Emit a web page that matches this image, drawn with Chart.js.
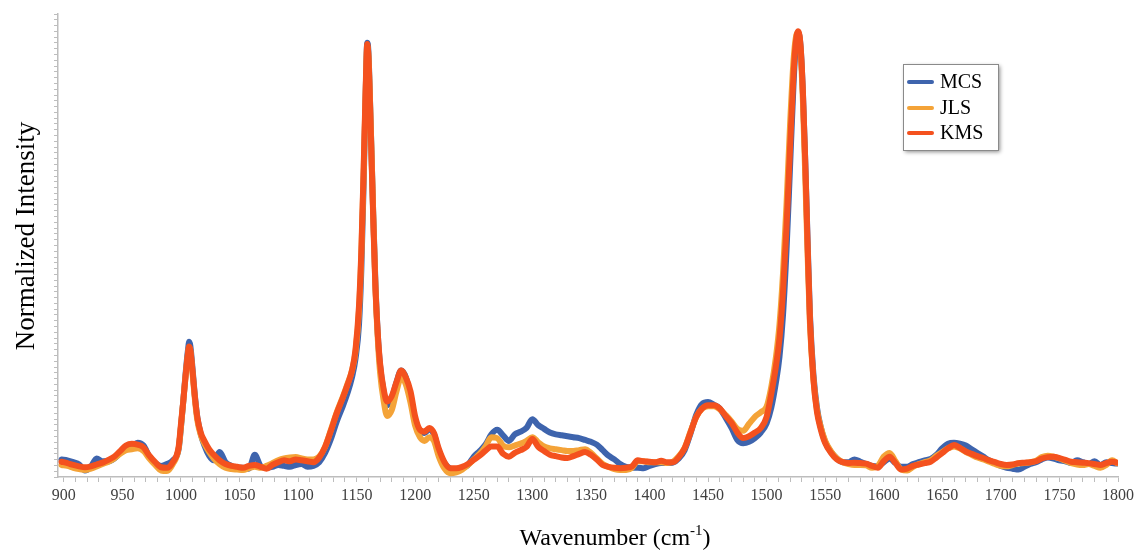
<!DOCTYPE html>
<html>
<head>
<meta charset="utf-8">
<script src="https://cdn.jsdelivr.net/npm/chart.js@4.4.1/dist/chart.umd.min.js"></script>
<style>
  html, body { margin: 0; padding: 0; background: #fff; }
  #wrap { width: 1139px; height: 550px; position: relative; }
</style>
</head>
<body>
<div id="wrap"><canvas id="grafico"></canvas></div>
<script>
// Raman spectra, values (arbitrary units, 0..100)
const wavenumbers = [
  898, 903, 908, 913, 918, 923, 928, 933, 938, 943,
  948, 953, 958, 963, 968, 973, 978, 983, 988, 993,
  998, 1000, 1002, 1004, 1006, 1007, 1008, 1010, 1012, 1014,
  1017, 1020, 1024, 1028, 1033, 1038, 1043, 1048, 1053, 1058,
  1063, 1068, 1073, 1078, 1083, 1088, 1093, 1098, 1103, 1108,
  1113, 1118, 1123, 1128, 1133, 1138, 1142, 1146, 1149, 1152,
  1154, 1156, 1158, 1159, 1160, 1162, 1164, 1166, 1168, 1170,
  1173, 1176, 1180, 1184, 1188, 1192, 1196, 1200, 1204, 1208,
  1212, 1216, 1220, 1225, 1230, 1235, 1240, 1245, 1250, 1255,
  1260, 1265, 1270, 1275, 1280, 1285, 1290, 1295, 1300, 1305,
  1310, 1315, 1320, 1325, 1330, 1335, 1340, 1345, 1350, 1355,
  1360, 1365, 1370, 1375, 1380, 1385, 1390, 1395, 1400, 1405,
  1410, 1415, 1420, 1425, 1430, 1435, 1440, 1445, 1450, 1455,
  1460, 1465, 1470, 1475, 1480, 1485, 1490, 1495, 1500, 1504,
  1508, 1511, 1514, 1517, 1520, 1523, 1525, 1527, 1529, 1531,
  1533, 1535, 1537, 1540, 1543, 1546, 1550, 1555, 1560, 1565,
  1570, 1575, 1580, 1585, 1590, 1595, 1600, 1605, 1610, 1615,
  1620, 1625, 1630, 1635, 1640, 1645, 1650, 1655, 1660, 1665,
  1670, 1675, 1680, 1685, 1690, 1695, 1700, 1705, 1710, 1715,
  1720, 1725, 1730, 1735, 1740, 1745, 1750, 1755, 1760, 1765,
  1770, 1775, 1780, 1785, 1790, 1795, 1799
];

const mcs = [
  3.8, 3.6, 3.2, 2.7, 1.4, 2.2, 4.0, 3.4, 3.4, 4.0,
  5.2, 6.2, 6.6, 7.4, 6.8, 4.4, 3.0, 2.4, 2.8, 3.6,
  6.0, 10.8, 16.5, 22.5, 27.5, 29.2, 28.3, 23, 17.2, 12.8,
  9.2, 6.8, 4.6, 3.6, 5.4, 3.2, 2.4, 2.0, 2.0, 1.8,
  4.8, 2.4, 2.0, 2.2, 2.6, 2.4, 2.2, 2.6, 2.8, 2.2,
  2.4, 3.2, 5.2, 8.2, 12, 15.2, 18, 21.5, 25.5, 33,
  45, 64, 86, 93.8, 92, 76, 58, 42, 31, 24,
  18.5, 15.5, 17, 20.5, 23, 21.5, 17.5, 12.2, 10, 9.5,
  10.3, 9.2, 5.8, 3.0, 1.8, 1.6, 2.0, 2.6, 4.4, 5.6,
  7.0, 9.2, 10.2, 9.0, 7.8, 9.2, 9.8, 10.6, 12.5, 11.2,
  10.4, 9.6, 9.2, 9.0, 8.8, 8.6, 8.4, 8.0, 7.6, 7.0,
  5.8, 4.6, 3.8, 2.8, 2.2, 2.0, 2.0, 1.9, 2.4, 2.8,
  3.0, 3.0, 3.1, 4.0, 5.8, 9.4, 13.5, 15.8, 16.2, 15.6,
  14.8, 12.8, 10.6, 8.0, 7.3, 7.6, 8.4, 9.6, 11.6, 15,
  20.5, 26, 35, 49, 67, 85, 93.5, 96, 93, 83,
  68, 51, 35, 22, 15, 11, 7.6, 5.4, 4.0, 3.2,
  3.2, 3.8, 3.3, 2.8, 2.4, 2.3, 3.2, 4.0, 3.0, 2.2,
  2.2, 2.8, 3.2, 3.6, 3.9, 4.8, 6.2, 7.2, 7.4, 7.2,
  6.8, 6.0, 5.2, 4.4, 3.6, 3.0, 2.4, 2.0, 1.8, 1.6,
  2.2, 2.8, 3.2, 3.8, 4.2, 4.0, 3.6, 3.4, 3.0, 3.6,
  3.2, 2.8, 3.4, 2.6, 3.2, 3.0, 2.9
];

const jls = [
  2.6, 2.4, 2.0, 1.7, 1.5, 1.8, 2.3, 2.8, 3.3, 4.0,
  5.0, 5.8, 6.0, 6.2, 5.6, 4.0, 2.6, 1.4, 1.3, 2.8,
  6.2, 11, 16.5, 22, 26.5, 28, 27.2, 22, 16.5, 12.2,
  9.0, 7.2, 5.4, 4.0, 2.8, 2.0, 1.7, 1.6, 1.5, 1.9,
  2.2, 2.0, 2.4, 3.0, 3.6, 4.0, 4.2, 4.3, 4.0, 3.8,
  3.8, 4.4, 6.5, 10.2, 14, 17.2, 20, 23, 27, 36,
  48, 66, 86, 93, 91, 76, 58, 41, 30, 22.5,
  16.5, 13.2, 14.5, 18.5, 21.5, 20, 16, 11, 8.6, 7.8,
  8.6, 7.8, 4.5, 1.8, 0.8, 1.0, 1.6, 2.6, 3.8, 5.0,
  6.6, 8.6, 8.4, 6.8, 6.4, 6.8, 7.2, 7.8, 8.6, 7.5,
  6.6, 6.2, 6.0, 5.8, 5.6, 5.6, 5.8, 6.0, 5.2, 4.0,
  2.8, 2.2, 1.7, 1.5, 1.5, 2.0, 3.4, 3.4, 3.2, 3.2,
  3.2, 3.0, 3.3, 4.5, 6.3, 9.8, 13, 14.8, 15.3, 15.3,
  14.6, 13.4, 12.0, 10.4, 10.0, 11.5, 13, 14, 15.2, 19.5,
  26, 33, 44, 59, 76, 90, 95, 96, 92, 81,
  65, 48, 33, 21, 14.5, 11, 7.8, 5.5, 4, 3.2,
  2.8, 2.6, 2.6, 2.5, 2.0, 2.4, 4.4, 5.2, 3.4, 1.6,
  1.4, 2.2, 2.8, 3.2, 3.6, 4.6, 5.4, 6.2, 6.6, 6.2,
  5.4, 4.8, 4.2, 3.8, 3.3, 2.8, 2.4, 2.3, 2.6, 2.9,
  3.0, 3.2, 3.5, 4.3, 4.6, 4.4, 4.0, 3.5, 3.0, 2.7,
  2.6, 2.8, 2.4, 2.0, 2.6, 3.6, 3.0
];

const kms = [
  3.3, 3.0, 2.6, 2.3, 2.1, 2.3, 2.7, 3.1, 3.7, 4.4,
  5.6, 6.8, 7.2, 7.0, 6.4, 4.6, 3.2, 2.1, 2.0, 3.2,
  6.5, 11.5, 16.5, 22, 26.8, 28.2, 27.4, 22.5, 17, 12.8,
  9.5, 7.8, 6.0, 4.8, 3.6, 2.8, 2.4, 2.2, 2.0, 2.4,
  2.6, 2.2, 1.8, 2.6, 3.2, 3.6, 3.4, 3.8, 3.6, 3.4,
  3.2, 4.2, 6.5, 10, 13.8, 17, 19.8, 23, 27.5, 37,
  49, 67, 87, 93.5, 91, 75, 57, 41, 31, 24.5,
  19, 16.3, 17.5, 20.5, 23, 21.5, 18.5, 13, 10.2, 9.8,
  10.6, 9.5, 6.2, 3.2, 1.9, 1.9, 2.2, 2.8, 3.7, 4.6,
  5.7, 6.6, 6.6, 5.0, 4.4, 5.2, 5.8, 6.5, 8.2, 6.5,
  5.6, 4.8, 4.5, 4.2, 4.1, 4.5, 5.0, 5.4, 4.8, 3.8,
  2.6, 2.2, 2.0, 1.9, 2.0, 2.3, 3.6, 3.4, 3.3, 3.2,
  3.5, 3.2, 3.2, 4.3, 6.2, 9.6, 13, 14.8, 15.5, 15.5,
  14.8, 13.2, 11.7, 9.6, 8.4, 8.8, 9.6, 10.6, 13, 18,
  24, 30, 40, 54, 71, 87, 94, 96.3, 93, 83,
  68, 50, 34, 21, 14, 10.5, 7.3, 5.2, 3.8, 3.2,
  3.0, 3.1, 3.0, 2.9, 2.4, 2.0, 3.4, 4.4, 3.0, 1.6,
  1.8, 2.4, 2.7, 3.0, 3.3, 4.2, 5.2, 6.2, 6.9, 6.3,
  5.5, 5.0, 4.5, 4.1, 3.6, 3.2, 2.8, 2.6, 2.7, 3.0,
  3.1, 3.2, 3.4, 4.0, 4.3, 4.4, 4.1, 3.7, 3.3, 3.2,
  3.1, 3.0, 2.8, 2.6, 3.0, 3.3, 3.1
];

const seriesNames = ["MCS", "JLS", "KMS"];
const seriesColors = ["#3E64AD", "#F4A338", "#F4511E"];

const FONT = "'Liberation Serif', 'Times New Roman', serif";
const AXIS_GREY = "#bdbdbd";

function pontos(valores) {
  return wavenumbers.map((x, i) => ({ x: x, y: valores[i] }));
}

// titles and legend box, drawn after the chart
const extras = {
  id: "extras",
  afterDraw(chart) {
    const ctx = chart.ctx;
    ctx.save();

    // y title
    ctx.fillStyle = "#000";
    ctx.font = "27px " + FONT;
    ctx.textAlign = "center";
    ctx.textBaseline = "alphabetic";
    ctx.translate(34, 236);
    ctx.rotate(-Math.PI / 2);
    ctx.fillText("Normalized Intensity", 0, 0);
    ctx.setTransform(1, 0, 0, 1, 0, 0);

    // x title with superscript
    ctx.font = "24px " + FONT;
    const parte1 = "Wavenumber (cm";
    const sup = "-1";
    const parte3 = ")";
    const w1 = ctx.measureText(parte1).width;
    const w3 = ctx.measureText(parte3).width;
    ctx.font = "15px " + FONT;
    const w2 = ctx.measureText(sup).width;
    const total = w1 + w2 + w3;
    let x = 615 - total / 2;
    const base = 545;
    ctx.textAlign = "left";
    ctx.font = "24px " + FONT;
    ctx.fillText(parte1, x, base);
    ctx.font = "15px " + FONT;
    ctx.fillText(sup, x + w1, base - 10);
    ctx.font = "24px " + FONT;
    ctx.fillText(parte3, x + w1 + w2, base);

    // legend box
    const bx = 903, by = 64, bw = 95, bh = 86;
    ctx.save();
    ctx.shadowColor = "rgba(0,0,0,0.45)";
    ctx.shadowBlur = 4;
    ctx.shadowOffsetX = 2;
    ctx.shadowOffsetY = 2;
    ctx.fillStyle = "#fff";
    ctx.fillRect(bx, by, bw, bh);
    ctx.restore();
    ctx.strokeStyle = "#8a8a8a";
    ctx.lineWidth = 1;
    ctx.strokeRect(bx + 0.5, by + 0.5, bw, bh);

    const linhasY = [82, 108, 133];
    ctx.font = "20px " + FONT;
    ctx.textBaseline = "middle";
    seriesNames.forEach((nome, i) => {
      ctx.strokeStyle = seriesColors[i];
      ctx.lineWidth = 4;
      ctx.lineCap = "round";
      ctx.beginPath();
      ctx.moveTo(909, linhasY[i]);
      ctx.lineTo(932, linhasY[i]);
      ctx.stroke();
      ctx.fillStyle = "#000";
      ctx.fillText(nome, 940, linhasY[i] + 1);
    });

    ctx.restore();
  }
};

const dados = [mcs, jls, kms];

new Chart(document.getElementById("grafico"), {
  type: "line",
  data: {
    datasets: seriesNames.map((nome, i) => ({
      label: nome,
      data: pontos(dados[i]),
      borderColor: seriesColors[i],
      backgroundColor: seriesColors[i],
      borderWidth: 6,
      pointRadius: 0,
      cubicInterpolationMode: "monotone",
      borderJoinStyle: "round",
      borderCapStyle: "round",
      fill: false,
      order: 3 - i
    }))
  },
  options: {
    responsive: true,
    maintainAspectRatio: false,
    animation: false,
    layout: { padding: { top: 14, right: 21, left: 0, bottom: 0 } },
    plugins: {
      legend: { display: false },
      tooltip: { enabled: false }
    },
    scales: {
      x: {
        type: "linear",
        min: 895,
        max: 1800,
        afterFit(scale) { scale.height = 73; },
        border: { display: true, color: AXIS_GREY, width: 1.5 },
        grid: {
          display: true,
          drawOnChartArea: false,
          drawTicks: true,
          tickLength: 5,
          color: AXIS_GREY
        },
        ticks: {
          stepSize: 10,
          includeBounds: false,
          autoSkip: false,
          maxRotation: 0,
          padding: 4,
          color: "#404040",
          font: { family: FONT, size: 16 },
          callback: (v) => (v % 50 === 0 ? String(v) : "")
        }
      },
      y: {
        type: "linear",
        min: 0,
        max: 100,
        afterFit(scale) { scale.width = 58; },
        border: { display: true, color: AXIS_GREY, width: 1.5 },
        grid: {
          display: true,
          drawOnChartArea: false,
          drawTicks: true,
          tickLength: 4,
          color: AXIS_GREY
        },
        ticks: {
          display: false,
          stepSize: 1.25
        }
      }
    }
  },
  plugins: [extras]
});
</script>
</body>
</html>
